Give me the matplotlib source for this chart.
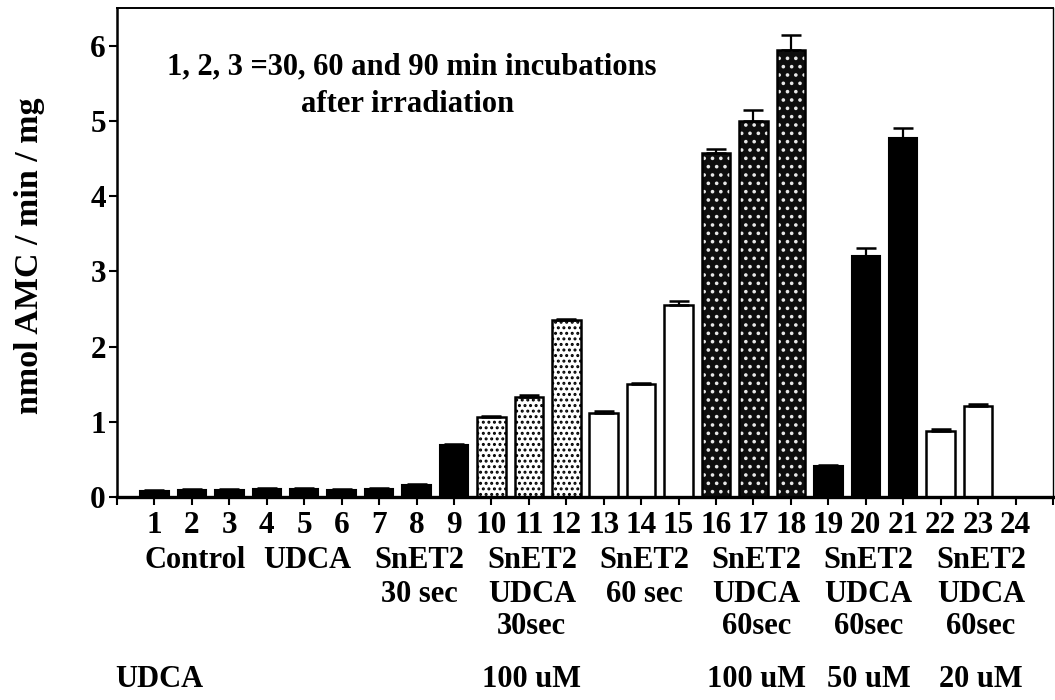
import numpy as np
import matplotlib.pyplot as plt
from matplotlib import transforms

plt.rcParams['font.family'] = ['Liberation Serif', 'DejaVu Serif']
plt.rcParams['font.weight'] = 'bold'
plt.rcParams['hatch.linewidth'] = 1.4

# lanes 1-24, AMC release (nmol AMC / min / mg)
lanes = np.arange(1, 25)
activity = [0.08, 0.09, 0.09, 0.11, 0.11, 0.09, 0.11, 0.16, 0.69,
            1.06, 1.33, 2.35, 1.12, 1.50, 2.55, 4.57, 5.00, 5.94,
            0.41, 3.20, 4.77, 0.88, 1.21, 0.0]
sem = [0.01, 0.01, 0.01, 0.01, 0.01, 0.01, 0.01, 0.01, 0.01,
       0.02, 0.02, 0.02, 0.02, 0.02, 0.05, 0.06, 0.14, 0.20,
       0.02, 0.11, 0.14, 0.03, 0.02, 0.0]
fill = (['black'] * 9 + ['light'] * 3 + ['white'] * 3 + ['dark'] * 3
        + ['black'] * 3 + ['white'] * 3)

group_centers = [2, 5, 8, 11, 14, 17, 20, 23]
group_lines = [["Control"], ["UDCA"], ["SnET2", "30 sec"],
               ["SnET2", "UDCA", "30sec"], ["SnET2", "60 sec"],
               ["SnET2", "UDCA", "60sec"], ["SnET2", "UDCA", "60sec"],
               ["SnET2", "UDCA", "60sec"]]
dose_x = [11, 17, 20, 23]
dose_labels = ["100 uM", "100 uM", "50 uM", "20 uM"]

W, H = 1055, 700
fig = plt.figure(figsize=(W / 100, H / 100), dpi=100)
fig.patch.set_facecolor('w')
ax = fig.add_axes([117 / W, 1 - 497 / H, 936 / W, 489 / H])

width = 0.76
for x, v, f in zip(lanes, activity, fill):
    if v <= 0:
        continue
    if f == 'black':
        ax.bar(x, v, width, color='black', edgecolor='black', linewidth=1.5, zorder=2)
    elif f == 'white':
        ax.bar(x, v, width, color='white', edgecolor='black', linewidth=1.8, zorder=2)
    elif f == 'light':
        ax.bar(x, v, width, color='white', edgecolor='black', hatch='...', linewidth=0, zorder=2)
        ax.bar(x, v, width, color='none', edgecolor='black', linewidth=1.8, zorder=3)
    else:
        ax.bar(x, v, width, color='#0e0e0e', edgecolor='#e8e8e8', hatch='..', linewidth=0, zorder=2)
        ax.bar(x, v, width, color='none', edgecolor='black', linewidth=1.8, zorder=3)

has = [i for i, v in enumerate(activity) if v > 0]
ax.errorbar([lanes[i] for i in has], [activity[i] for i in has],
            yerr=[[0] * len(has), [sem[i] for i in has]],
            fmt='none', ecolor='black', elinewidth=1.6, capsize=7, capthick=1.8, zorder=4)

ax.set_xlim(0, 25)
ax.set_ylim(0, 6.5)
ax.set_xticks(range(0, 26))
ax.set_xticklabels([''] + [str(i) for i in lanes] + [''], fontsize=22.5)
ax.set_yticks(range(0, 7))
ax.set_yticklabels([str(i) for i in range(0, 7)], fontsize=22.5)
ax.tick_params(axis='x', direction='out', length=6, width=1.5, pad=4)
ax.tick_params(axis='y', direction='out', length=6, width=1.5, pad=2)
ax.spines['bottom'].set_linewidth(2.4)
ax.spines['left'].set_linewidth(1.8)
ax.spines['top'].set_linewidth(1.4)
ax.spines['right'].set_linewidth(1.0)

fig.text(30 / W, 1 - 256 / H, "nmol AMC / min / mg", rotation=90,
         ha='center', va='center', fontsize=24.5)

fig.text(412 / W, 1 - 74 / H, "1, 2, 3 =30, 60 and 90 min incubations",
         ha='center', va='baseline', fontsize=22)
fig.text(408 / W, 1 - 112 / H, "after irradiation",
         ha='center', va='baseline', fontsize=22)

# group labels under the lane numbers
trans = transforms.blended_transform_factory(ax.transData, fig.transFigure)
row_base = [568, 602, 634]
for cx, lines in zip(group_centers, group_lines):
    for k, t in enumerate(lines):
        ax.text(cx + 0.08, 1 - row_base[k] / H, t, transform=trans,
                ha='center', va='baseline', fontsize=22)

fig.text(115 / W, 1 - 687 / H, "UDCA", ha='left', va='baseline', fontsize=22)
for cx, t in zip(dose_x, dose_labels):
    ax.text(cx + 0.08, 1 - 687 / H, t, transform=trans,
            ha='center', va='baseline', fontsize=22)

fig.savefig('out.png', dpi=100)
